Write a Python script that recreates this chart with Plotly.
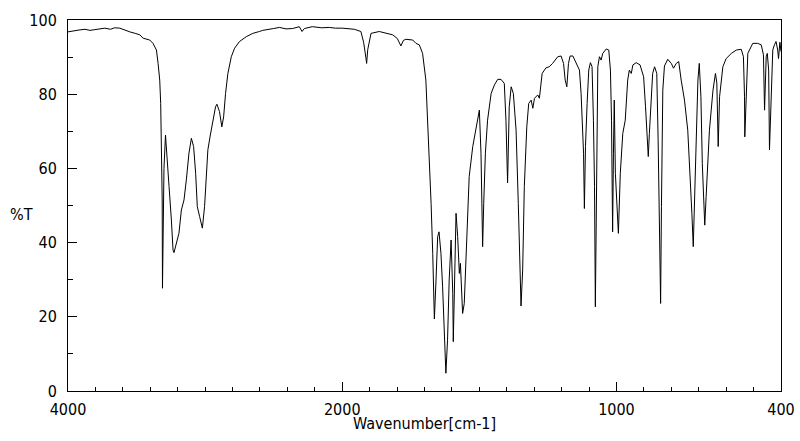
import numpy as np
import plotly.graph_objects as go

# Wavenumber (cm-1) and transmittance (%T)
wavenumber = [
    4000, 3975, 3949, 3920, 3876, 3840, 3804, 3770, 3731, 3690, 3660, 3622, 3590, 3549, 3510, 3476,
    3452, 3404, 3380, 3355, 3343, 3331, 3324, 3319, 3316, 3313, 3311, 3305, 3300, 3289, 3278, 3263,
    3246, 3234, 3227, 3209, 3191, 3173, 3154, 3137, 3118, 3100, 3084, 3069, 3057, 3040, 3020, 3004,
    2980, 2962, 2943, 2924, 2914, 2895, 2878, 2865, 2851, 2834, 2809, 2785, 2749, 2700, 2652, 2625,
    2604, 2580, 2555, 2500, 2458, 2410, 2361, 2313, 2293, 2276, 2218, 2150, 2095, 2050, 2000,
    1986, 1956, 1932, 1922, 1914, 1911, 1907, 1895, 1865, 1816, 1799, 1786, 1777, 1768, 1743, 1731,
    1719, 1707, 1695, 1685, 1676, 1670, 1667, 1664, 1658, 1652, 1647, 1640, 1634, 1628, 1622, 1616,
    1610, 1603, 1597, 1595, 1591, 1585, 1579, 1573, 1569, 1565, 1561, 1555, 1549, 1537, 1524, 1512,
    1500, 1494, 1490, 1488, 1484, 1478, 1470, 1457, 1445, 1433, 1421, 1409, 1403, 1399, 1397, 1391,
    1384, 1376, 1366, 1358, 1351, 1348, 1342, 1336, 1327, 1320, 1311, 1305, 1299, 1287, 1281, 1271,
    1257, 1245, 1233, 1214, 1202, 1193, 1187, 1181, 1175, 1169, 1159, 1145, 1135, 1129, 1123, 1120,
    1117, 1113, 1107, 1101, 1095, 1089, 1084, 1080, 1077, 1072, 1068, 1062, 1056, 1050, 1037, 1028,
    1022, 1018, 1016, 1014, 1011, 1008, 1004, 997, 993, 986, 977, 968, 959, 953, 946, 940,
    928, 914, 901, 894, 888, 884, 880, 873, 868, 861, 853, 848, 843, 839, 836, 831,
    825, 813, 800, 792, 782, 773, 764, 752, 740, 731, 725, 720, 715, 709, 703, 698,
    692, 687, 681, 678, 673, 661, 648, 639, 634, 629, 624, 612, 600, 581, 563, 545,
    537, 533, 532, 528, 521, 503, 485, 472, 464, 460, 454, 450, 445, 442, 435, 430,
    424, 418, 412, 409, 404, 400,
]
transmittance = [
    96.8, 96.9, 97.0, 97.3, 97.5, 97.2, 97.4, 97.6, 97.8, 97.5, 97.9, 97.8, 97.3, 96.8, 96.4, 96.0,
    95.1, 94.6, 93.7, 91.9, 88.3, 83.8, 77.5, 68.5, 56.9, 51.5, 27.7, 45.0, 60.0, 69.0, 64.1, 55.1,
    46.1, 38.0, 37.3, 39.8, 42.5, 48.8, 51.5, 56.9, 64.1, 68.1, 65.9, 58.7, 49.7, 47.0, 43.9, 49.7,
    65.0, 69.0, 73.0, 76.6, 77.3, 75.3, 71.2, 73.9, 80.2, 85.6, 90.1, 92.4, 94.2, 95.5, 96.4, 96.8,
    96.9, 97.2, 97.3, 97.7, 98.0, 97.6, 97.7, 98.2, 96.9, 97.7, 98.2, 97.9, 98.0, 97.8, 97.8,
    97.7, 97.5, 96.9, 94.0, 90.0, 88.3, 92.0, 96.4, 96.9, 96.0, 95.0, 93.0, 94.5, 94.8, 94.6, 93.7,
    93.3, 91.0, 83.8, 68.5, 50.6, 37.1, 25.4, 19.4, 29.9, 41.6, 42.9, 37.1, 28.1, 14.6, 4.8, 13.7,
    29.9, 40.7, 26.3, 13.3, 28.1, 47.9, 41.6, 31.7, 34.4, 28.1, 20.9, 23.6, 35.3, 57.8, 65.9, 70.3,
    75.7, 64.1, 46.1, 38.9, 50.6, 64.1, 73.0, 80.2, 82.5, 84.0, 84.0, 82.9, 73.0, 62.3, 56.1, 76.6,
    82.0, 80.2, 70.3, 50.6, 32.6, 22.9, 32.6, 55.1, 71.2, 77.5, 78.4, 76.2, 78.9, 79.8, 78.9, 85.6,
    87.1, 87.4, 88.3, 90.1, 90.3, 88.3, 83.8, 82.0, 88.3, 90.3, 90.3, 88.3, 86.5, 80.2, 71.2, 64.1,
    49.2, 65.9, 77.5, 86.5, 88.5, 87.4, 73.0, 55.1, 22.7, 55.1, 87.4, 90.1, 89.2, 91.0, 92.2, 91.9,
    86.5, 73.0, 53.3, 42.9, 64.1, 78.4, 58.7, 49.7, 42.5, 58.7, 69.4, 73.0, 83.8, 86.5, 85.6, 87.9,
    88.5, 87.9, 84.7, 76.6, 67.7, 63.2, 69.4, 80.2, 85.6, 87.4, 85.6, 67.7, 40.7, 23.6, 49.7, 81.1,
    87.6, 89.4, 88.3, 87.0, 88.3, 88.8, 83.8, 78.4, 70.3, 58.7, 47.9, 38.9, 52.4, 70.3, 83.8, 88.3,
    79.3, 61.3, 47.0, 44.7, 52.4, 70.3, 81.1, 85.6, 83.0, 65.9, 79.3, 87.4, 89.6, 91.0, 91.9, 92.1,
    90.1, 79.3, 68.5, 79.3, 91.0, 93.7, 93.7, 93.3, 90.6, 75.7, 90.1, 91.0, 86.5, 65.0, 79.3, 91.9,
    93.3, 94.2, 91.9, 89.6, 94.0, 91.5,
]

# Axis labels
major_ticks = [4000, 2000, 1000, 400]
minor_ticks = list(range(3800, 2000, -200)) + list(range(1900, 400, -100))
y_major = [0, 20, 40, 60, 80, 100]


def to_axis(w):
    """Split wavenumber scale: 4000-2000 at half scale, 2000-400 at full scale."""
    w = np.asarray(w, dtype=float)
    return np.where(w >= 2000, (4000 - w) / 2.0, 1000 + (2000 - w))


FONT = "Liberation Sans Narrow, DejaVu Sans Condensed, sans-serif"

fig = go.Figure()
fig.add_trace(go.Scatter(
    x=to_axis(wavenumber), y=transmittance, mode="lines",
    line=dict(color="black", width=1), hoverinfo="skip", showlegend=False,
))

fig.update_layout(
    width=800, height=441,
    margin=dict(l=68, r=19, t=20, b=50),
    paper_bgcolor="white", plot_bgcolor="white",
    font=dict(family=FONT, size=16, color="black"),
    xaxis=dict(
        range=[0, 2600], showgrid=False, zeroline=False, automargin=False,
        showline=True, linecolor="black", linewidth=1, mirror=True,
        ticks="inside", ticklen=9, tickwidth=1, tickcolor="black",
        tickmode="array", tickvals=to_axis(major_ticks).tolist(),
        ticktext=[str(v) for v in major_ticks],
        ticklabelstandoff=4,
        minor=dict(ticks="inside", ticklen=4, tickwidth=1, tickcolor="black",
                   tickmode="array", tickvals=to_axis(minor_ticks).tolist(), showgrid=False),
    ),
    yaxis=dict(
        range=[0, 100], showgrid=False, zeroline=False, automargin=False,
        showline=True, linecolor="black", linewidth=1, mirror=True,
        ticks="inside", ticklen=9, tickwidth=1, tickcolor="black",
        tickmode="array", tickvals=y_major, ticktext=[str(v) for v in y_major],
        ticklabelstandoff=7,
        minor=dict(ticks="inside", ticklen=5, tickwidth=1, tickcolor="black",
                   dtick=10, showgrid=False),
    ),
    annotations=[
        dict(text="%T", xref="paper", yref="paper", x=-0.084, y=0.475,
             xanchor="left", yanchor="middle", showarrow=False, font=dict(size=16)),
        dict(text="Wavenumber[cm-1]", xref="paper", yref="paper", x=0.5, y=-0.087,
             xanchor="center", yanchor="middle", showarrow=False, font=dict(size=16)),
    ],
)

fig.write_html("out.html")
